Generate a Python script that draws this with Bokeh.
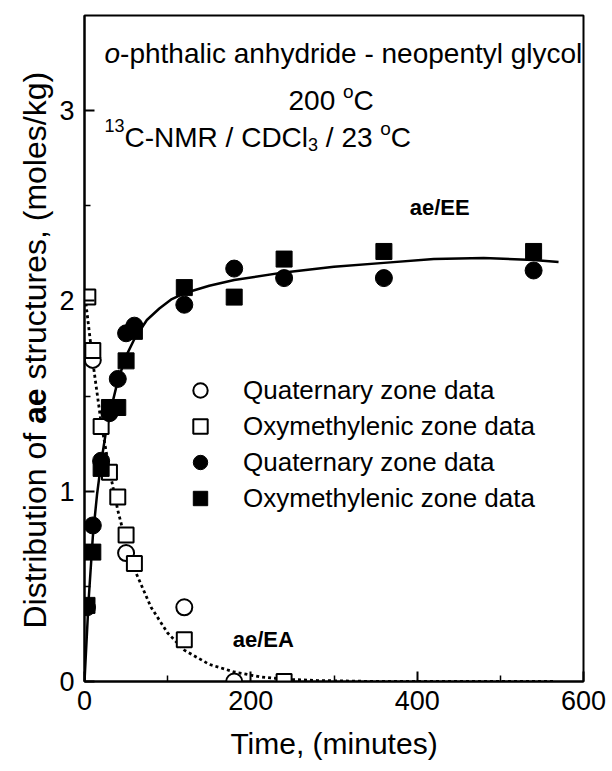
import math
from bokeh.plotting import figure
from bokeh.layouts import row
from bokeh.models import Range1d, Label, Legend, LegendItem, FixedTicker
from bokeh.embed import file_html
from bokeh.resources import INLINE

# ---------------- data ----------------
# ae/EA, open symbols
t_ea_quat = [10, 50, 120, 180]
v_ea_quat = [1.69, 0.675, 0.39, 0.0]
t_ea_oxy = [4, 10, 20, 30, 40, 50, 60, 120, 240]
v_ea_oxy = [2.02, 1.74, 1.34, 1.10, 0.97, 0.77, 0.62, 0.22, 0.0]

# ae/EE, filled symbols
t_ee_quat = [3, 10, 20, 30, 40, 50, 60, 120, 180, 240, 360, 540]
v_ee_quat = [0.39, 0.82, 1.16, 1.41, 1.59, 1.83, 1.87, 1.98, 2.17, 2.12, 2.12, 2.16]
t_ee_oxy = [3, 10, 20, 30, 40, 50, 60, 120, 180, 240, 360, 540]
v_ee_oxy = [0.40, 0.68, 1.12, 1.44, 1.44, 1.685, 1.84, 2.07, 2.02, 2.22, 2.26, 2.26]

# fitted curves
t_fit_ee = [0, 5, 10, 15, 20, 25, 30, 40, 50, 60, 75, 90, 105, 120, 150, 180, 240, 300, 360, 420, 480, 540, 570]
v_fit_ee = [0.0, 0.43, 0.76, 0.98, 1.15, 1.29, 1.40, 1.58, 1.71, 1.80, 1.90, 1.96, 2.01, 2.04, 2.08, 2.11, 2.15, 2.18, 2.20, 2.22, 2.225, 2.215, 2.205]
t_fit_ea = [0, 10, 20, 30, 40, 50, 60, 80, 100, 120, 150, 180, 210, 240, 280, 350, 450, 565]
v_fit_ea = [2.05, 1.68, 1.36, 1.11, 0.90, 0.73, 0.59, 0.39, 0.255, 0.165, 0.09, 0.05, 0.025, 0.012, 0.005, 0.0, 0.0, 0.0]

x_ticks = [0, 200, 400, 600]
x_minor = [100, 300, 500]
y_ticks = [0, 1, 2, 3]
y_minor = [0.5, 1.5, 2.5]

legend_labels = ["Quaternary zone data", "Oxymethylenic zone data",
                 "Quaternary zone data", "Oxymethylenic zone data"]

FONT = "Liberation Sans"

# Arial-like advance widths (per 1000 em) for placing composite text runs
W = {' ': 278, '(': 333, ')': 333, ',': 278, '-': 333, '/': 278, '.': 278,
     'A': 667, 'C': 722, 'D': 722, 'E': 667, 'M': 833, 'N': 722, 'R': 722, 'T': 611,
     'a': 556, 'b': 556, 'c': 500, 'd': 556, 'e': 556, 'f': 278, 'g': 556, 'h': 556,
     'i': 222, 'k': 500, 'l': 222, 'm': 833, 'n': 556, 'o': 556, 'p': 556, 'r': 333,
     's': 500, 't': 278, 'u': 556, 'y': 500, 'z': 500}
for d in "0123456789":
    W[d] = 556


def tw(s, size):
    return sum(W.get(c, 556) for c in s) / 1000.0 * size


# ---------------- narrow panel holding the y-axis title ----------------
QW = 56
q = figure(width=QW, height=771, output_backend="svg", toolbar_location=None,
           x_range=Range1d(0, QW), y_range=Range1d(0, 771),
           x_axis_location=None, y_axis_location=None,
           min_border_left=0, min_border_right=0, min_border_top=0, min_border_bottom=0)
q.grid.visible = False
q.outline_line_color = None
q.background_fill_color = "white"
q.border_fill_color = "white"

# ---------------- main plot ----------------
p = figure(width=612 - QW, height=771, output_backend="svg", toolbar_location=None,
           x_range=Range1d(0, 600), y_range=Range1d(0, 3.5),
           min_border_left=83 - QW, min_border_right=29, min_border_top=15, min_border_bottom=90)
p.background_fill_color = "white"
p.border_fill_color = "white"
p.grid.visible = False
p.outline_line_color = "black"
p.outline_line_width = 2

p.xaxis.ticker = FixedTicker(ticks=x_ticks, minor_ticks=x_minor)
p.yaxis.ticker = FixedTicker(ticks=y_ticks, minor_ticks=y_minor)
for ax in (p.xaxis, p.yaxis):
    ax.axis_line_width = 2
    ax.axis_line_color = "black"
    ax.major_tick_in = 10
    ax.major_tick_out = 0
    ax.minor_tick_in = 6
    ax.minor_tick_out = 0
    ax.major_tick_line_width = 2
    ax.minor_tick_line_width = 1.5
    ax.major_tick_line_color = "black"
    ax.minor_tick_line_color = "black"
    ax.major_label_text_font = FONT
    ax.major_label_text_font_size = "27px"
    ax.major_label_text_color = "black"
p.xaxis.major_label_standoff = 9
p.yaxis.major_label_standoff = 10
p.xaxis.axis_label = "Time, (minutes)"
p.xaxis.axis_label_text_font = FONT
p.xaxis.axis_label_text_font_size = "30px"
p.xaxis.axis_label_text_font_style = "normal"
p.xaxis.axis_label_text_color = "black"
p.xaxis.axis_label_standoff = 14

# curves
p.line(t_fit_ee, v_fit_ee, line_color="black", line_width=2.5)
p.line(t_fit_ea, v_fit_ea, line_color="black", line_width=2.8, line_dash="3 3")

# markers
r_oq = p.scatter(t_ea_quat, v_ea_quat, marker="circle", size=16, fill_color="white",
                 line_color="black", line_width=2)
r_oo = p.scatter(t_ea_oxy, v_ea_oxy, marker="square", size=15, fill_color="white",
                 line_color="black", line_width=2)
r_fq = p.scatter(t_ee_quat, v_ee_quat, marker="circle", size=17, fill_color="black",
                 line_color="black", line_width=1)
r_fo = p.scatter(t_ee_oxy, v_ee_oxy, marker="square", size=16, fill_color="black",
                 line_color="black", line_width=1)

legend = Legend(items=[LegendItem(label=legend_labels[0], renderers=[r_oq]),
                       LegendItem(label=legend_labels[1], renderers=[r_oo]),
                       LegendItem(label=legend_labels[2], renderers=[r_fq]),
                       LegendItem(label=legend_labels[3], renderers=[r_fo])],
                location=(98, 165), orientation="vertical",
                glyph_width=36, glyph_height=36, spacing=0, padding=0, margin=0,
                label_standoff=25, label_text_font=FONT, label_text_font_size="26px",
                label_text_color="black", label_text_baseline="middle",
                border_line_alpha=0, background_fill_alpha=0)
p.add_layout(legend)

# series annotations
p.add_layout(Label(x=427, y=2.49, text="ae/EE", text_font=FONT, text_font_size="22px",
                   text_font_style="bold", text_align="center", text_baseline="middle",
                   text_color="black"))
p.add_layout(Label(x=215, y=0.22, text="ae/EA", text_font=FONT, text_font_size="22px",
                   text_font_style="bold", text_align="center", text_baseline="middle",
                   text_color="black"))


def runs_h(fig, runs, fx, fy):
    x = fx
    for text, size, style, dy in runs:
        lead = len(text) - len(text.lstrip())
        s = text.strip()
        if s:
            fig.add_layout(Label(x=x + tw(text[:lead], size), y=fy + dy, x_units="screen",
                                 y_units="screen", text=s, text_font=FONT,
                                 text_font_size=f"{size}px", text_font_style=style,
                                 text_align="left", text_baseline="alphabetic",
                                 text_color="black"))
        x += tw(text, size)


def runs_v(fig, runs, fx, fy):
    y = fy
    for text, size, style in runs:
        lead = len(text) - len(text.lstrip())
        s = text.strip()
        if s:
            fig.add_layout(Label(x=fx, y=y + tw(text[:lead], size), x_units="screen",
                                 y_units="screen", text=s, angle=math.pi / 2,
                                 text_font=FONT, text_font_size=f"{size}px",
                                 text_font_style=style, text_align="left",
                                 text_baseline="middle", text_color="black"))
        y += tw(text, size)


# frame-relative screen coords: x from frame left, y from frame bottom
runs_h(p, [("o", 28, "italic", 0), ("-phthalic anhydride - neopentyl glycol", 28, "normal", 0)], 20, 628)
runs_h(p, [("200 ", 28, "normal", 0), ("o", 19, "normal", 9.5), ("C", 28, "normal", 0)], 204, 581)
runs_h(p, [("13", 18, "normal", 12), ("C-NMR / CDCl", 28, "normal", 0), ("3", 18, "normal", -7),
           (" / 23 ", 28, "normal", 0), ("o", 19, "normal", 9.5), ("C", 28, "normal", 0)], 20, 544)

# y-axis title (panel q spans the full height; y measured from the page bottom)
runs_v(q, [("Distribution of ", 32, "normal"), ("ae", 32, "bold"),
           (" structures, (moles/kg)", 32, "normal")], 34, 53)

layout = row(q, p, spacing=0)
open("out.html", "w").write(file_html(layout, INLINE))
